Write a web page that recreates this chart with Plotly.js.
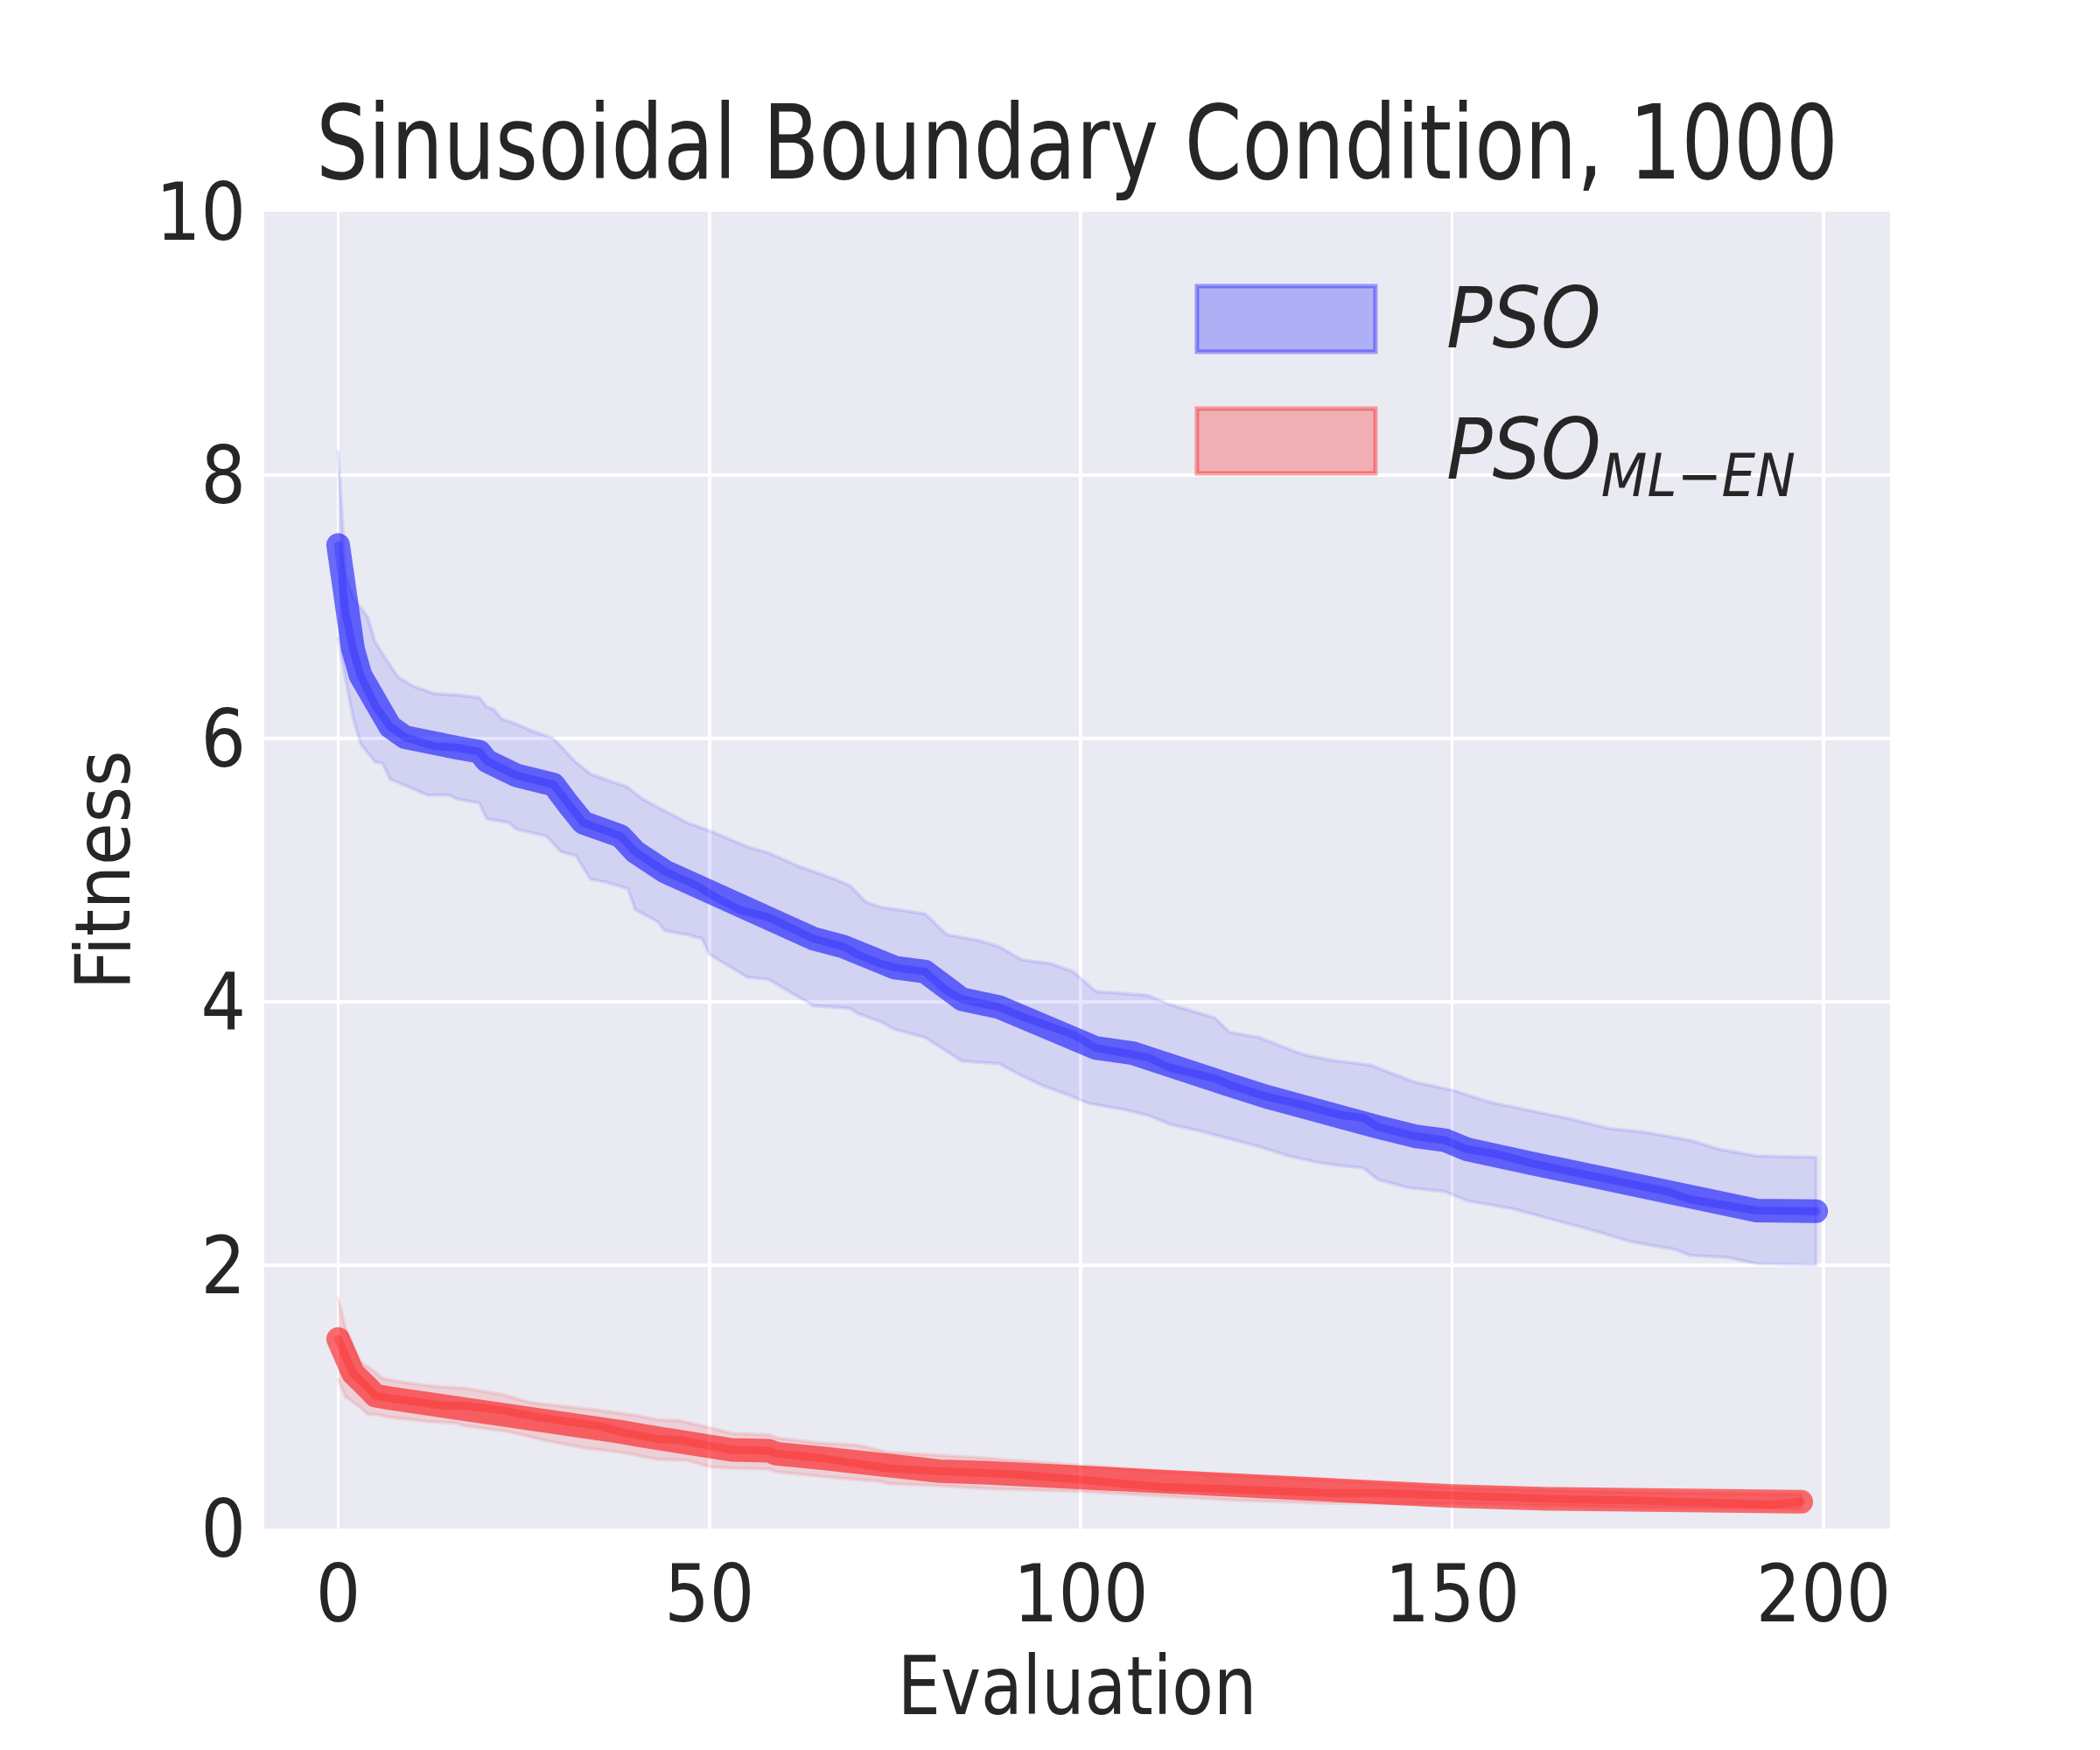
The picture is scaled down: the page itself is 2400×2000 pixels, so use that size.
<!DOCTYPE html>
<html>
<head>
<meta charset="utf-8">
<script src="https://cdn.plot.ly/plotly-3.0.1.min.js"></script>
<style>
html,body{margin:0;padding:0;background:#fff;}
#chart{width:2400px;height:2000px;}
</style>
</head>
<body>
<div id="chart"></div>
<script>
// ---------- data ----------
const titleText = "Sinusoidal Boundary Condition, 1000";
const xTickVals = [0, 50, 100, 150, 200];
const yTickVals = [0, 2, 4, 6, 8, 10];

// PSO (blue) mean curve
const psoMeanX = [0,1,2,3,5,7,9,13,16,19,20,24,29,31,33,38,40,44,48,51,54,58,61,64,68,70,73,75,79,82,84,89,92,97,99,102,107,109,112,118,120,125,129,135,138,140,145,149,152,156,161,167,174,179,182,186,191,199];
const psoMean  = [7.47,6.95,6.68,6.48,6.25,6.09,6.01,5.94,5.93,5.90,5.83,5.72,5.65,5.50,5.36,5.26,5.14,4.99,4.89,4.79,4.70,4.64,4.56,4.48,4.42,4.36,4.29,4.26,4.23,4.08,4.02,3.96,3.89,3.80,3.75,3.65,3.61,3.58,3.50,3.42,3.37,3.28,3.23,3.14,3.12,3.05,2.98,2.95,2.88,2.845,2.77,2.70,2.61,2.56,2.50,2.46,2.415,2.41];

// PSO band upper edge
const psoUpperX = [0,1,2,4,5,8,10,13,16,19,20,21,22,24,26,29,31,32,34,36,39,41,44,47,50,53,55,58,62,64,67,69,71,73,79,82,86,89,92,96,99,102,109,112,118,120,124,129,130,134,139,145,150,155,160,166,171,176,182,186,191,199];
const psoUpper  = [8.18,7.25,7.07,6.92,6.73,6.47,6.40,6.34,6.33,6.31,6.24,6.22,6.15,6.11,6.06,6.00,5.88,5.82,5.73,5.69,5.63,5.54,5.45,5.36,5.30,5.23,5.18,5.13,5.03,4.99,4.93,4.88,4.76,4.72,4.67,4.51,4.47,4.42,4.32,4.29,4.23,4.08,4.05,3.98,3.88,3.77,3.73,3.62,3.60,3.555,3.52,3.39,3.33,3.24,3.18,3.11,3.04,3.01,2.95,2.88,2.83,2.82];

// PSO band lower edge
const psoLowerX = [0,1,2,3,5,6,7,10,12,15,16,19,20,23,24,28,30,32,34,36,39,40,43,44,47,49,50,53,55,58,61,64,69,70,73,75,79,82,84,89,92,95,98,101,106,109,112,116,120,124,128,132,135,138,140,144,149,152,158,163,168,174,180,182,187,191,199];
const psoLower  = [6.76,6.45,6.16,5.96,5.82,5.81,5.69,5.62,5.57,5.57,5.54,5.51,5.39,5.36,5.31,5.26,5.14,5.11,4.93,4.91,4.86,4.70,4.61,4.54,4.51,4.48,4.36,4.26,4.19,4.17,4.07,3.97,3.95,3.91,3.85,3.79,3.73,3.62,3.55,3.53,3.44,3.36,3.30,3.23,3.18,3.14,3.07,3.02,2.96,2.90,2.83,2.78,2.755,2.74,2.65,2.59,2.56,2.49,2.43,2.355,2.28,2.18,2.12,2.075,2.06,2.01,2.00];

// PSO_ML-EN (red) mean curve
const mlMeanX = [0,1,2,4,5,7,10,14,17,22,27,31,35,38,41,43,46,50,53,58,59,65,68,73,74,81,87,91,100,105,111,121,125,133,140,150,163,174,181,193,197];
const mlMean  = [1.44,1.29,1.18,1.07,1.01,0.99,0.967,0.935,0.934,0.90,0.845,0.812,0.78,0.735,0.705,0.68,0.673,0.624,0.598,0.591,0.569,0.536,0.514,0.48,0.458,0.436,0.425,0.414,0.37,0.348,0.315,0.297,0.288,0.27,0.27,0.248,0.226,0.215,0.204,0.182,0.204];

// PSO_ML-EN band upper edge
const mlUpperX = [0,1,3,5,6,9,13,17,22,26,35,40,43,46,50,53,58,59,65,70,74,81,87,100,111,121,133,150,175,197];
const mlUpper  = [1.75,1.52,1.265,1.19,1.14,1.11,1.08,1.066,1.02,0.956,0.90,0.86,0.828,0.82,0.768,0.724,0.713,0.69,0.65,0.635,0.58,0.558,0.536,0.48,0.436,0.403,0.37,0.31,0.275,0.26];

// PSO_ML-EN band lower edge
const mlLowerX = [0,1,3,4,5,7,12,16,17,23,28,33,38,41,43,47,50,53,58,59,67,73,74,81,87,100,111,121,133,150,175,197];
const mlLower  = [1.13,1.00,0.92,0.867,0.867,0.845,0.812,0.80,0.78,0.735,0.668,0.613,0.58,0.547,0.525,0.518,0.469,0.458,0.452,0.43,0.385,0.359,0.341,0.326,0.304,0.282,0.248,0.215,0.193,0.19,0.16,0.15];

const legendLabels = ["<i>PSO</i>", "<i>PSO<sub>ML\u2212EN</sub></i>"];

// ---------- build traces ----------
function band(ux, uy, lx, ly, fill, edge) {
  return {
    type: "scatter", mode: "lines",
    x: ux.concat(lx.slice().reverse()),
    y: uy.concat(ly.slice().reverse()),
    fill: "toself", fillcolor: fill,
    line: {color: edge, width: 4},
    hoverinfo: "skip", showlegend: false
  };
}
function meanLine(x, y, color, width) {
  return {
    type: "scatter", mode: "lines", x: x, y: y,
    line: {color: color, width: width},
    showlegend: false, hoverinfo: "skip"
  };
}

const FONT = "'DejaVu Sans Condensed', 'DejaVu Sans', sans-serif";
const ink = "#262626";

const traces = [
  band(psoUpperX, psoUpper, psoLowerX, psoLower, "rgba(0,0,255,0.10)", "rgba(0,0,255,0.09)"),
  band(mlUpperX, mlUpper, mlLowerX, mlLower, "rgba(255,0,0,0.11)", "rgba(255,0,0,0.09)"),
  meanLine(psoMeanX, psoMean, "rgba(0,0,255,0.55)", 27),
  meanLine(psoMeanX, psoMean, "rgba(0,0,255,0.22)", 9),
  meanLine(mlMeanX, mlMean, "rgba(255,0,0,0.55)", 27),
  meanLine(mlMeanX, mlMean, "rgba(255,0,0,0.22)", 9)
];

const layout = {
  width: 2400, height: 2000,
  paper_bgcolor: "#ffffff",
  plot_bgcolor: "#EAEAF2",
  margin: {l: 302, r: 240, t: 242, b: 253, pad: 0},
  font: {family: FONT, color: ink, size: 92},
  title: {
    text: titleText,
    font: {family: FONT, size: 118, color: ink},
    x: 0.5, xref: "paper", xanchor: "center",
    y: 1 - 204/2000, yref: "container", yanchor: "bottom"
  },
  xaxis: {
    range: [-9.95, 208.95],
    tickvals: xTickVals,
    ticktext: xTickVals.map(String),
    showgrid: true, gridcolor: "#ffffff", gridwidth: 3.5,
    zeroline: false, showline: false, ticks: "",
    ticklabelstandoff: 15,
    tickfont: {family: FONT, size: 90, color: ink},
    title: {text: "Evaluation", font: {family: FONT, size: 92, color: ink}, standoff: 0}
  },
  yaxis: {
    range: [0, 10],
    tickvals: yTickVals,
    ticktext: yTickVals.map(String),
    showgrid: true, gridcolor: "#ffffff", gridwidth: 3.5,
    zeroline: false, showline: false, ticks: "",
    ticklabelstandoff: 20,
    tickfont: {family: FONT, size: 90, color: ink},
    title: {text: "Fitness", font: {family: FONT, size: 88, color: ink}, standoff: 0}
  },
  showlegend: false,
  shapes: [
    {type: "rect", xref: "paper", yref: "paper", x0: 0.5737, x1: 0.6835, y0: 0.8937, y1: 0.9435,
     fillcolor: "rgba(0,0,255,0.25)", line: {color: "rgba(0,0,255,0.35)", width: 5}, layer: "above"},
    {type: "rect", xref: "paper", yref: "paper", x0: 0.5737, x1: 0.6835, y0: 0.8014, y1: 0.8505,
     fillcolor: "rgba(255,0,0,0.25)", line: {color: "rgba(255,0,0,0.35)", width: 5}, layer: "above"}
  ],
  annotations: [
    {xref: "paper", yref: "paper", x: 0.726, y: 0.9196, xanchor: "left", yanchor: "middle",
     text: legendLabels[0], showarrow: false, font: {family: FONT, size: 97, color: ink}},
    {xref: "paper", yref: "paper", x: 0.726, y: 0.8266, xanchor: "left", yanchor: "top",
     yshift: 48, text: legendLabels[1], showarrow: false, font: {family: FONT, size: 97, color: ink}}
  ]
};

function squeeze(el, sx) {
  if (!el) return;
  const b = el.getBBox();
  const cx = b.x + b.width / 2;
  const prev = el.getAttribute("transform") || "";
  el.setAttribute("transform", "translate(" + cx + ",0) scale(" + sx + ",1) translate(" + (-cx) + ",0) " + prev);
}

Plotly.newPlot("chart", traces, layout, {staticPlot: true, displayModeBar: false}).then(function(){
  document.querySelectorAll(".scatterlayer .js-line").forEach(function(p){
    p.style.strokeLinecap = "round";
    p.style.strokeLinejoin = "round";
  });
  squeeze(document.querySelector(".gtitle"), 0.885);
  squeeze(document.querySelector(".g-xtitle text"), 0.94);
});
</script>
</body>
</html>
